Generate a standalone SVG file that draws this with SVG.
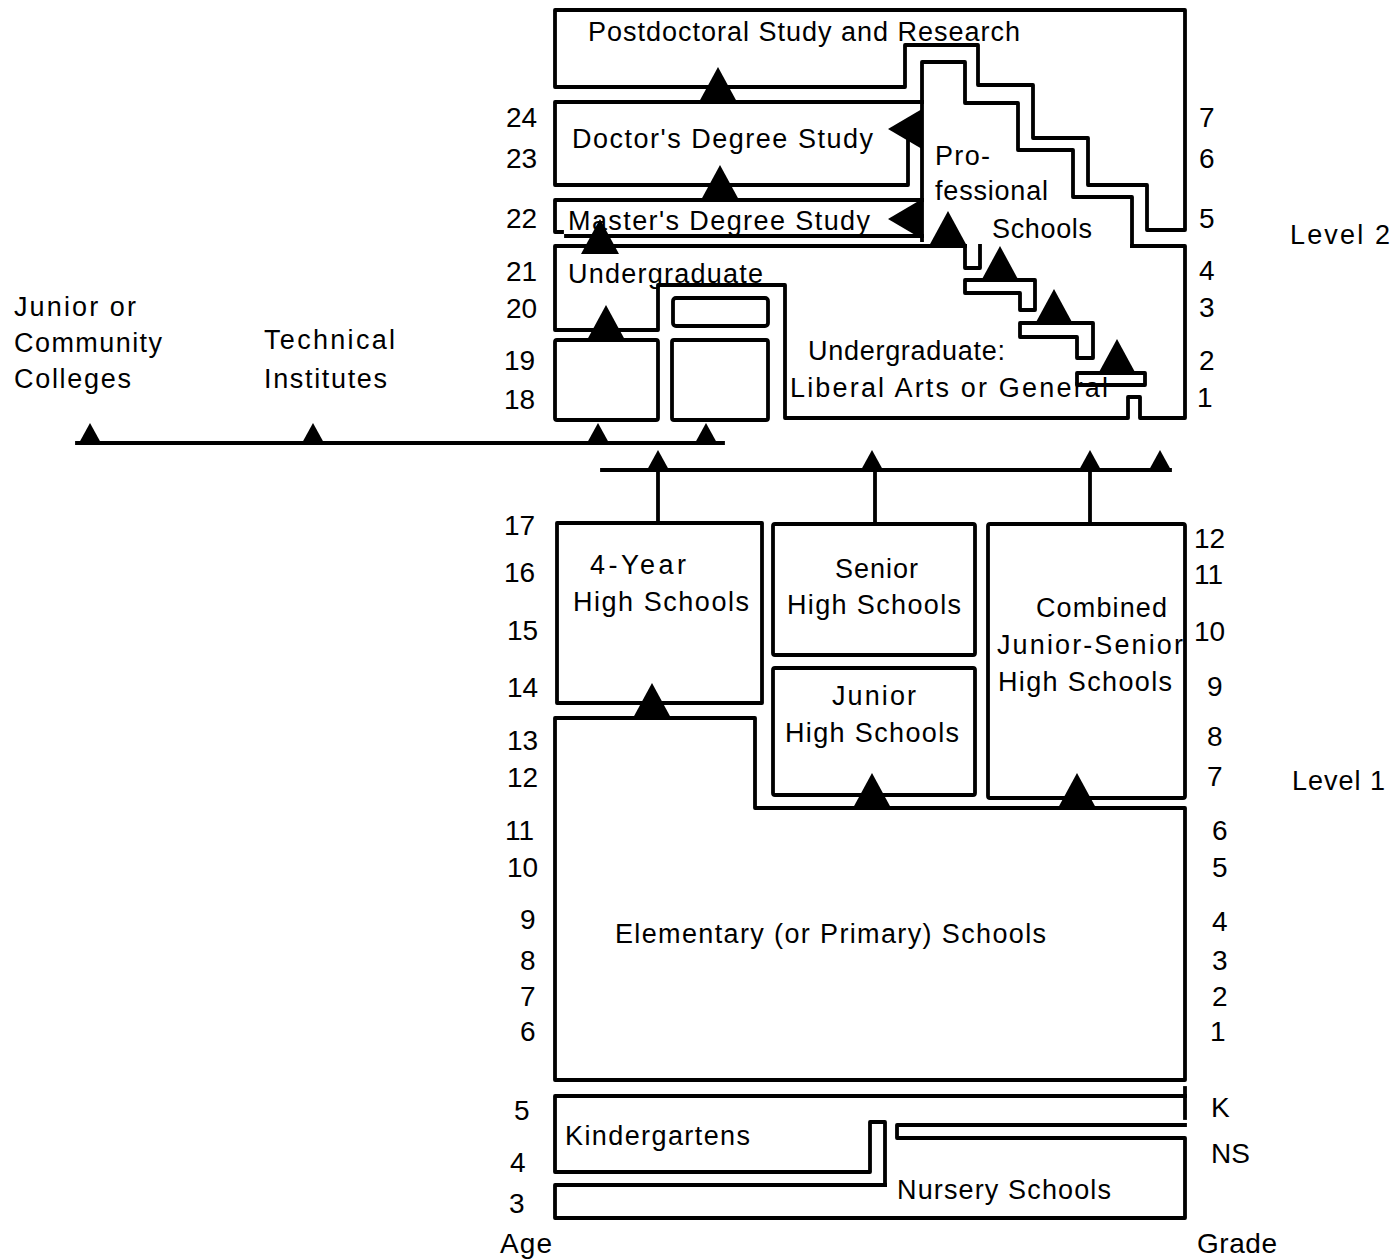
<svg xmlns="http://www.w3.org/2000/svg" xmlns:xlink="http://www.w3.org/1999/xlink" width="1394" height="1260" viewBox="0 0 1394 1260">
<defs>
<style>
.ln{fill:none;stroke:#000;stroke-width:3.8;stroke-linejoin:round;stroke-linecap:square}
.t{font-family:"Liberation Sans",Arial,sans-serif;font-size:27px;fill:#000}
.n{font-family:"Liberation Sans",Arial,sans-serif;font-size:28px;fill:#000}
.tri{fill:#000}
</style>
<path id="tb" class="tri" d="M0,-35 L19,0 L-19,0 Z"/>
<path id="ts" class="tri" d="M0,-20 L11,0 L-11,0 Z"/>
<path id="tl" class="tri" d="M-34,0 L0,-20 L0,20 Z"/>
</defs>
<rect width="1394" height="1260" fill="#fff"/>

<g id="postdoctoral">
<path class="ln" d="M555,10 H1185 V230 H1147 V185 H1088 V138 H1033 V85 H978 V45 H905 V87 H555 Z"/>
<text class="t" x="588" y="41" textLength="432" lengthAdjust="spacing">Postdoctoral Study and Research</text>
</g>

<g id="professional">
<path class="ln" d="M922,240 V62 H965 V103 H1018 V150 H1073 V197 H1132 V246"/>
<text class="t" x="935" y="165" textLength="55" lengthAdjust="spacing">Pro-</text>
<text class="t" x="935" y="200" textLength="113" lengthAdjust="spacing">fessional</text>
<text class="t" x="992" y="238" textLength="100" lengthAdjust="spacing">Schools</text>
</g>

<g id="doctor">
<path class="ln" d="M922,102 H555 V185 H908 V140"/>
<text class="t" x="572" y="148" textLength="301" lengthAdjust="spacing">Doctor's Degree Study</text>
</g>

<g id="master">
<path class="ln" d="M922,200 H555 V232 H562"/>
<path class="ln" d="M566,236 H922"/>
<text class="t" x="568" y="230" textLength="302" lengthAdjust="spacing">Master's Degree Study</text>
</g>

<g id="undergraduate">
<path class="ln" d="M965,246 H555 V330 H658 V285 H785 V418 H1128 V397 H1140 V418 H1185 V246 H1132"/>
<path class="ln" d="M965,246 V268 H980 V246"/>
<path class="ln" d="M965,280 H1035 V310 H1020 V293 H965 Z"/>
<path class="ln" d="M1020,323 H1093 V358 H1077 V337 H1020 Z"/>
<path class="ln" d="M1077,373 H1145 V385 H1077 Z"/>
<text class="t" x="568" y="283" textLength="195" lengthAdjust="spacing">Undergraduate</text>
<text class="t" x="808" y="360" textLength="197" lengthAdjust="spacing">Undergraduate:</text>
<text class="t" x="790" y="397" textLength="318" lengthAdjust="spacing">Liberal Arts or General</text>
</g>

<g id="undergrad-small">
<rect class="ln" x="673" y="298" width="95" height="28" rx="3"/>
</g>
<g id="box-19-18-left">
<rect class="ln" x="555" y="340" width="103" height="80" rx="2"/>
</g>
<g id="box-19-18-mid">
<rect class="ln" x="672" y="340" width="96" height="80" rx="2"/>
</g>

<g id="junior-colleges">
<text class="t" x="14" y="316" textLength="122" lengthAdjust="spacing">Junior or</text>
<text class="t" x="14" y="352" textLength="148" lengthAdjust="spacing">Community</text>
<text class="t" x="14" y="388" textLength="117" lengthAdjust="spacing">Colleges</text>
</g>
<g id="technical-institutes">
<text class="t" x="264" y="349" textLength="131" lengthAdjust="spacing">Technical</text>
<text class="t" x="264" y="388" textLength="123" lengthAdjust="spacing">Institutes</text>
</g>

<g id="four-year-hs">
<rect class="ln" x="557" y="523" width="205" height="180"/>
<text class="t" x="590" y="574" textLength="96" lengthAdjust="spacing">4-Year</text>
<text class="t" x="573" y="611" textLength="176" lengthAdjust="spacing">High Schools</text>
</g>
<g id="senior-hs">
<rect class="ln" x="773" y="524" width="202" height="131" rx="2"/>
<text class="t" x="835" y="578" textLength="83" lengthAdjust="spacing">Senior</text>
<text class="t" x="787" y="614" textLength="174" lengthAdjust="spacing">High Schools</text>
</g>
<g id="junior-hs">
<rect class="ln" x="773" y="668" width="202" height="127" rx="2"/>
<text class="t" x="832" y="705" textLength="84" lengthAdjust="spacing">Junior</text>
<text class="t" x="785" y="742" textLength="174" lengthAdjust="spacing">High Schools</text>
</g>
<g id="combined-hs">
<rect class="ln" x="988" y="524" width="197" height="274" rx="2"/>
<text class="t" x="1036" y="617" textLength="131" lengthAdjust="spacing">Combined</text>
<text class="t" x="997" y="654" textLength="186" lengthAdjust="spacing">Junior-Senior</text>
<text class="t" x="998" y="691" textLength="174" lengthAdjust="spacing">High Schools</text>
</g>

<g id="elementary">
<path class="ln" d="M555,718 H755 V808 H1185 V1080 H555 Z"/>
<text class="t" x="615" y="943" textLength="431" lengthAdjust="spacing">Elementary (or Primary) Schools</text>
</g>

<g id="kindergartens">
<path class="ln" d="M1185,1096 H555 V1172 H870 V1122 H885 V1185"/>
<path class="ln" d="M1185,1088 V1118"/>
<text class="t" x="565" y="1145" textLength="185" lengthAdjust="spacing">Kindergartens</text>
</g>
<g id="nursery">
<path class="ln" d="M885,1185 H555 V1218 H1185 V1138 H897 V1125 H1185"/>
<text class="t" x="897" y="1199" textLength="214" lengthAdjust="spacing">Nursery Schools</text>
</g>

<g id="connectors">
<path class="ln" d="M77,443 H723"/>
<path class="ln" d="M602,470 H1170"/>
<path class="ln" d="M658,470 V523 M875,470 V523 M1090,470 V523"/>
<use xlink:href="#ts" x="90" y="443"/>
<use xlink:href="#ts" x="313" y="443"/>
<use xlink:href="#ts" x="598" y="443"/>
<use xlink:href="#ts" x="706" y="443"/>
<use xlink:href="#ts" x="658" y="470"/>
<use xlink:href="#ts" x="872" y="470"/>
<use xlink:href="#ts" x="1090" y="470"/>
<use xlink:href="#ts" x="1160" y="470"/>
<use xlink:href="#tb" x="718" y="102"/>
<use xlink:href="#tb" x="720" y="200"/>
<use xlink:href="#tb" x="600" y="254"/>
<use xlink:href="#tb" x="606" y="340"/>
<use xlink:href="#tl" x="922" y="129"/>
<use xlink:href="#tl" x="922" y="219"/>
<use xlink:href="#tb" x="948" y="246"/>
<use xlink:href="#tb" x="1000" y="281"/>
<use xlink:href="#tb" x="1054" y="324"/>
<use xlink:href="#tb" x="1117" y="374"/>
<use xlink:href="#tb" x="652" y="718"/>
<use xlink:href="#tb" x="872" y="808"/>
<use xlink:href="#tb" x="1077" y="808"/>
</g>

<g id="age-scale">
<text class="n" x="506" y="127">24</text>
<text class="n" x="506" y="168">23</text>
<text class="n" x="506" y="228">22</text>
<text class="n" x="506" y="281">21</text>
<text class="n" x="506" y="318">20</text>
<text class="n" x="504" y="370">19</text>
<text class="n" x="504" y="409">18</text>
<text class="n" x="504" y="535">17</text>
<text class="n" x="504" y="582">16</text>
<text class="n" x="507" y="640">15</text>
<text class="n" x="507" y="697">14</text>
<text class="n" x="507" y="750">13</text>
<text class="n" x="507" y="787">12</text>
<text class="n" x="505" y="840">11</text>
<text class="n" x="507" y="877">10</text>
<text class="n" x="520" y="929">9</text>
<text class="n" x="520" y="970">8</text>
<text class="n" x="520" y="1006">7</text>
<text class="n" x="520" y="1041">6</text>
<text class="n" x="514" y="1120">5</text>
<text class="n" x="510" y="1172">4</text>
<text class="n" x="509" y="1213">3</text>
<text class="n" x="500" y="1253" textLength="52" lengthAdjust="spacing">Age</text>
</g>

<g id="grade-scale">
<text class="n" x="1199" y="127">7</text>
<text class="n" x="1199" y="168">6</text>
<text class="n" x="1199" y="228">5</text>
<text class="n" x="1199" y="280">4</text>
<text class="n" x="1199" y="317">3</text>
<text class="n" x="1199" y="370">2</text>
<text class="n" x="1197" y="407">1</text>
<text class="n" x="1194" y="548">12</text>
<text class="n" x="1194" y="584">11</text>
<text class="n" x="1194" y="641">10</text>
<text class="n" x="1207" y="696">9</text>
<text class="n" x="1207" y="746">8</text>
<text class="n" x="1207" y="786">7</text>
<text class="n" x="1212" y="840">6</text>
<text class="n" x="1212" y="877">5</text>
<text class="n" x="1212" y="931">4</text>
<text class="n" x="1212" y="970">3</text>
<text class="n" x="1212" y="1006">2</text>
<text class="n" x="1210" y="1041">1</text>
<text class="n" x="1211" y="1117">K</text>
<text class="n" x="1211" y="1163">NS</text>
<text class="n" x="1197" y="1253" textLength="80" lengthAdjust="spacing">Grade</text>
</g>

<g id="levels">
<text class="t" x="1290" y="244" textLength="100" lengthAdjust="spacing">Level 2</text>
<text class="t" x="1292" y="790" textLength="93" lengthAdjust="spacing">Level 1</text>
</g>
</svg>
